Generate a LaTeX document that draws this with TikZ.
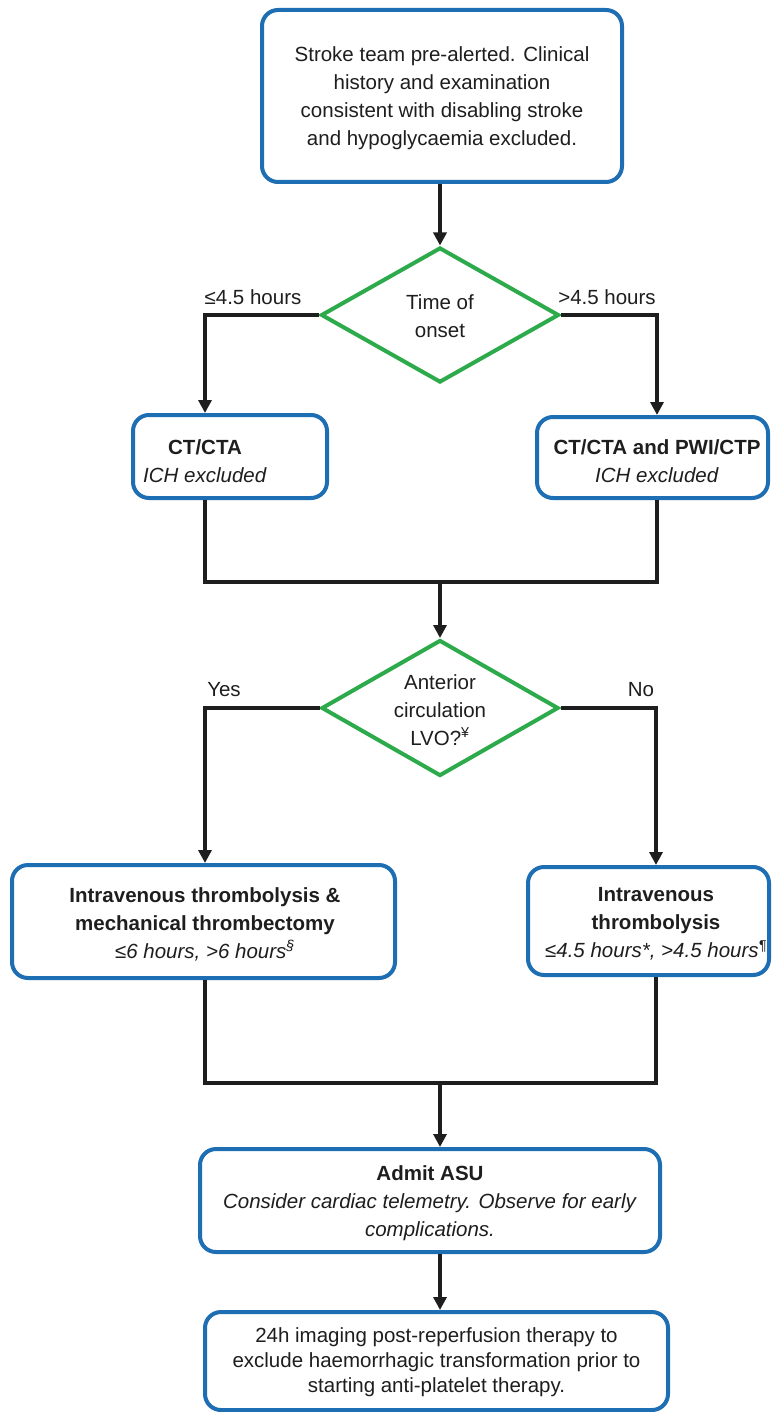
\documentclass[tikz,border=0pt]{standalone}
\usepackage{fontspec}
\setmainfont{Liberation Sans}
\usetikzlibrary{shapes.geometric,arrows.meta}
\definecolor{boxblue}{RGB}{30,110,180}
\definecolor{dgreen}{RGB}{45,170,75}
\definecolor{ink}{RGB}{30,30,30}
\begin{document}
\begin{tikzpicture}[x=1pt,y=-1pt,
  box/.style={draw=boxblue,line width=4pt,rounded corners=16pt,fill=white,inner sep=0pt},
  dec/.style={draw=dgreen,line width=4pt,diamond,inner sep=0pt,fill=white},
  txt/.style={align=center,text=ink,font=\fontsize{20.5}{28}\selectfont,inner sep=0pt},
  lbl/.style={text=ink,font=\fontsize{20.5}{28}\selectfont,inner sep=0pt},
  conn/.style={line width=3.5pt,draw=ink},
  arr/.style={conn,-{Triangle[length=13pt,width=13pt]}},
]
\fill[white] (0,0) rectangle (773,1412);
\useasboundingbox (0,0) rectangle (773,1412);

% top box
\node[box,minimum width=360pt,minimum height=172pt] (top) at (442,96) {};
\node[txt] (topt) at (442,98) {Stroke team pre-alerted. Clinical\\history and examination\\consistent with disabling stroke\\and hypoglycaemia excluded.};

% decision 1
\node[dec,minimum width=238pt,minimum height=135pt] (d1) at (440,315) {};
\node[txt] (d1t) at (440,316) {Time of\\onset};

% row 1 boxes
\node[box,minimum width=194pt,minimum height=83pt] (ct1) at (230,456.5) {};
\node[txt] (ct1t) at (205,461) {\textbf{CT/CTA}\\\textit{ICH excluded}};
\node[box,minimum width=231pt,minimum height=81pt] (ct2) at (652.5,457.5) {};
\node[txt] (ct2t) at (657,461) {\textbf{CT/CTA and PWI/CTP}\\\textit{ICH excluded}};

\node[lbl] (l1) at (253,297) {≤4.5 hours};
\node[lbl] (l2) at (607,297) {>4.5 hours};

\coordinate (a0) at (top.south -| d1.north);
\draw[arr] (a0) -- (d1.north);
\draw[arr] (d1.west) -| (ct1t |- ct1.north);
\draw[arr] (d1.east) -| (ct2t |- ct2.north);

% join 1
\coordinate (j1) at (440,582);
\draw[conn] (ct1t |- ct1.south) |- (j1);
\draw[conn] (ct2t |- ct2.south) |- (j1);

% decision 2
\node[dec,minimum width=237pt,minimum height=136pt] (d2) at (440,708) {};
\node[txt] (d2t) at (440,710) {Anterior\\circulation\\LVO?\textsuperscript{¥}};
\draw[arr] (j1) -- (d2.north);

\node[lbl] (yes) at (224,690) {Yes};
\node[lbl] (no) at (641,690) {No};

% row 2 boxes
\node[box,minimum width=383pt,minimum height=113pt] (lb) at (203.5,921.5) {};
\node[txt] (lbt) at (205,924) {\textbf{Intravenous thrombolysis \&}\\\textbf{mechanical thrombectomy}\\\textit{≤6 hours, >6 hours\textsuperscript{§}}};
\node[box,minimum width=241pt,minimum height=108pt] (rb) at (648.5,921) {};
\node[txt] (rbt) at (656,924) {\textbf{Intravenous}\\\textbf{thrombolysis}\\\textit{≤4.5 hours*, >4.5 hours\textsuperscript{¶}}};

\draw[arr] (d2.west) -| (lbt |- lb.north);
\draw[arr] (d2.east) -| (rbt |- rb.north);

% join 2
\coordinate (j2) at (440,1083);
\draw[conn] (lbt |- lb.south) |- (j2);
\draw[conn] (rbt |- rb.south) |- (j2);

% admit
\node[box,minimum width=460pt,minimum height=103pt] (adm) at (430,1200.5) {};
\node[txt] (admt) at (430,1203) {\textbf{Admit ASU}\\\textit{Consider cardiac telemetry. Observe for early}\\\textit{complications.}};
\draw[arr] (j2) -- (j2 |- adm.north);

% bottom
\node[box,minimum width=463pt,minimum height=98pt] (bot) at (436.5,1361) {};
\node[txt,font=\fontsize{20.5}{25}\selectfont] (bott) at (436.5,1362) {24h imaging post-reperfusion therapy to\\exclude haemorrhagic transformation prior to\\starting anti-platelet therapy.};
\draw[arr] (j2 |- adm.south) -- (j2 |- bot.north);
\end{tikzpicture}
\end{document}
